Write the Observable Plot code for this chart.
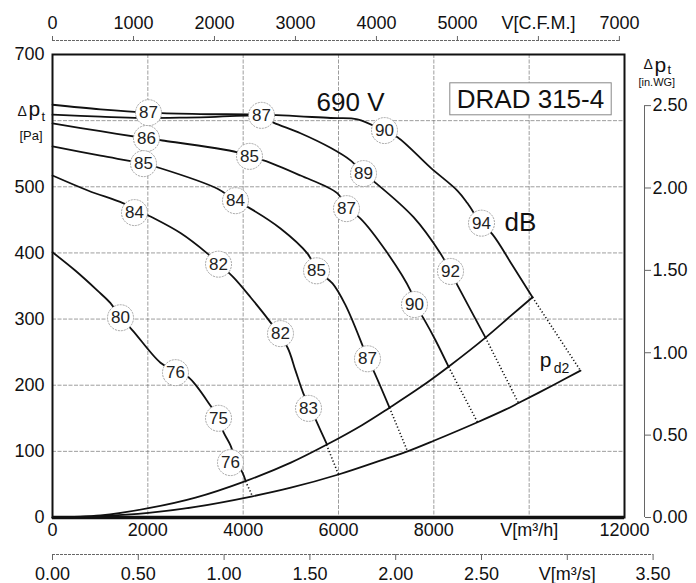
<!DOCTYPE html>
<html><head><meta charset="utf-8">
<script src="https://cdn.jsdelivr.net/npm/d3@7"></script>
<script src="https://cdn.jsdelivr.net/npm/@observablehq/plot@0.6"></script>
<style>body{margin:0;background:#fff;}</style>
</head><body><div id="chart"></div>
<script>
// ---- Fan curves (x: V [m³/h], y: Δp_t [Pa]) ----
const curve94 = [[0,624],[1007,617],[2014,612],[3105,610],[4406,609],[5832,604],[6399,602],[6944,585],[7238,575],[7930,529],[8497,494],[8707,475],[8979,446],[9231,428],[9651,381],[10070,333]];
const curve92 = [[0,609],[1007,606],[1846,604],[3105,605],[4406,606],[4636,597],[5203,581],[5832,559],[6252,540],[6525,520],[6777,506],[7574,454],[8140,399],[8350,372],[8497,351],[9084,272]];
const curve90 = [[0,596],[1007,584],[1993,573],[2308,570],[3881,552],[4154,544],[4427,540],[5203,517],[5979,490],[6189,467],[6462,452],[6986,404],[7511,343],[7616,321],[7784,301],[8035,268],[8308,228]];
const curve87 = [[0,561],[1007,547],[1909,535],[2266,528],[3462,497],[3839,479],[4154,467],[4783,437],[5350,399],[5559,373],[5874,354],[6147,321],[6504,260],[6609,240],[6734,222],[7070,166]];
const curve83 = [[0,517],[755,494],[1490,475],[2056,455],[2685,430],[3252,399],[3483,384],[3797,363],[4154,333],[4573,295],[4930,257],[5098,222],[5266,187],[5413,165],[5559,142],[5748,112]];
const curve76 = [[0,401],[483,373],[944,343],[1217,324],[1427,302],[1678,283],[2266,234],[2580,221],[2853,212],[3315,169],[3483,150],[3587,129],[3734,109],[3860,83],[3986,68],[4049,56]];
const fanCurves = [curve94, curve92, curve90, curve87, curve83, curve76];

// ---- Boundary curves ----
const upperLimit = [[0,0],[1007,3],[2014,14],[3000,30],[4049,55],[5000,83],[5748,110],[6500,140],[7070,166],[7700,196],[8308,228],[9084,272],[9600,304],[10070,333]];
const pd2Curve = [[0,0],[1007,2],[2014,7],[3000,16],[4196,32],[5000,45],[6000,65],[7000,89],[7448,100],[8000,116],[8916,144],[9500,163],[9776,173],[10500,200],[11077,222]];
const dottedFrom = [[10070,333],[9084,272],[8308,228],[7070,166],[5748,110],[4049,55]];
const dottedTo = [[11077,222],[9776,173],[8916,144],[7448,100],[6000,65],[4196,32]];

// ---- Sound level labels [x, y, dB] ----
const dbLabels = [
  [2014,612,"87"],[4385,608,"87"],[6965,585,"90"],[9000,445,"94"],
  [6525,520,"89"],[8350,372,"92"],
  [1972,573,"86"],[4133,546,"85"],[6168,467,"87"],[7594,322,"90"],
  [1909,535,"85"],[3839,479,"84"],[5539,373,"85"],[6608,240,"87"],
  [1720,461,"84"],[3483,383,"82"],[4783,278,"82"],[5371,165,"83"],
  [1427,302,"80"],[2580,219,"76"],[3483,150,"75"],[3734,83,"76"]
];

// ---- Annotations [x, y, text] ----
const bigNotes = [[6252,627,"690 V"],[9818,446,"dB"]];
const modelNote = [[10028,632,"DRAD 315-4"]];
const pd2Note = [[10343,233,"p"]];
const pd2Sub = [[10343,233,"d2"]];

// ---- Axes ----
const xTicks = [0,2000,4000,6000,8000,10000,12000];
const xTickLabels = ["0","2000","4000","6000","8000","V[m³/h]","12000"];
const yTicks = [0,100,200,300,400,500,700];
const gridXTicks = [2000,4000,6000,8000,10000];
const gridYTicks = [100,200,300,400,500,600];
const cfmTicks = [0,1000,2000,3000,4000,5000,6000,7000];
const cfmTickLabels = ["0","1000","2000","3000","4000","5000","V[C.F.M.]","7000"];
const m3sTicks = [0,0.5,1,1.5,2,2.5,3,3.5];
const m3sTickLabels = ["0.00","0.50","1.00","1.50","2.00","2.50","V[m³/s]","3.50"];
const inwgTicks = [0,0.5,1,1.5,2,2.5];
const inwgTickLabels = ["0.00","0.50","1.00","1.50","2.00","2.50"];

const M3H_PER_CFM = 1.699, M3H_PER_M3S = 3600, PA_PER_INWG = 249.09;

const xLabelMap = new Map(xTicks.map((v,i)=>[v,xTickLabels[i]]));
const cfmPos = cfmTicks.map(v=>v*M3H_PER_CFM);
const cfmMap = new Map(cfmPos.map((v,i)=>[v,cfmTickLabels[i]]));
const m3sPos = m3sTicks.map(v=>v*M3H_PER_M3S);
const m3sMap = new Map(m3sPos.map((v,i)=>[v,m3sTickLabels[i]]));
const inwgPos = inwgTicks.map(v=>v*PA_PER_INWG);
const inwgMap = new Map(inwgPos.map((v,i)=>[v,inwgTickLabels[i]]));

const FONT = "'Liberation Sans', Arial, Helvetica, sans-serif";
const links = dottedFrom.map((a,i)=>({x1:a[0],y1:a[1],x2:dottedTo[i][0],y2:dottedTo[i][1]}));

const chart = Plot.plot({
  width: 696, height: 583,
  marginLeft: 52, marginRight: 72, marginTop: 54, marginBottom: 66,
  x: {domain: [0, 12000]},
  y: {domain: [0, 700]},
  style: {fontFamily: FONT, background: "white", color: "#111"},
  marks: [
    Plot.gridX(gridXTicks, {stroke: "#777", strokeOpacity: 0.9, strokeWidth: 0.8, strokeDasharray: "4,1.5"}),
    Plot.gridY(gridYTicks, {stroke: "#777", strokeOpacity: 0.9, strokeWidth: 0.8, strokeDasharray: "4,1.5"}),
    Plot.frame({stroke: "#111", strokeWidth: 2}),
    Plot.ruleY([0], {stroke: "#111", strokeWidth: 3.5}),
    // primary axes
    Plot.axisY(yTicks, {anchor: "left", tickSize: 0, tickPadding: 8, fontSize: 18, label: null}),
    Plot.axisX(xTicks, {anchor: "bottom", tickSize: 0, tickPadding: 6, fontSize: 18, label: null, tickFormat: d => xLabelMap.get(d)}),
    // top C.F.M. axis
    Plot.ruleY([700], {x1: 0, x2: cfmPos[cfmPos.length-1], dy: -14, stroke: "#666", strokeWidth: 1, strokeDasharray: "3,1"}),
    Plot.axisX(cfmPos, {anchor: "top", tickSize: 5, dy: -14, tickPadding: 7, fontSize: 18, stroke: "#666", label: null, tickFormat: d => cfmMap.get(d)}),
    // bottom m³/s axis
    Plot.ruleY([0], {x1: 0, x2: m3sPos[m3sPos.length-1], dy: 37, stroke: "#666", strokeWidth: 1, strokeDasharray: "3,1"}),
    Plot.axisX(m3sPos, {anchor: "bottom", tickSize: 6, dy: 37, tickPadding: 7, fontSize: 18, stroke: "#666", label: null, tickFormat: d => m3sMap.get(d)}),
    // right in.WG axis
    Plot.ruleX([12000], {y1: 0, y2: inwgPos[inwgPos.length-1], dx: 20, stroke: "#666", strokeWidth: 1}),
    Plot.axisY(inwgPos, {anchor: "right", tickSize: 6, dx: 20, tickPadding: 2, fontSize: 18, stroke: "#666", label: null, tickFormat: d => inwgMap.get(d)}),
    // unit labels
    Plot.text(["Δ"], {frameAnchor: "left", y: 600, dx: -35, dy: -9, fontSize: 14, textAnchor: "start"}),
    Plot.text(["p"], {frameAnchor: "left", y: 600, dx: -24, dy: -11, fontSize: 21, textAnchor: "start"}),
    Plot.text(["t"], {frameAnchor: "left", y: 600, dx: -11, dy: -4, fontSize: 13, textAnchor: "start"}),
    Plot.text(["[Pa]"], {frameAnchor: "left", y: 600, dx: -33, dy: 15, fontSize: 13, textAnchor: "start"}),
    Plot.text(["Δ"], {frameAnchor: "top-right", dx: 19, dy: 5, fontSize: 14, textAnchor: "start"}),
    Plot.text(["p"], {frameAnchor: "top-right", dx: 30, dy: 3, fontSize: 21, textAnchor: "start"}),
    Plot.text(["t"], {frameAnchor: "top-right", dx: 43, dy: 10, fontSize: 13, textAnchor: "start"}),
    Plot.text(["[in.WG]"], {frameAnchor: "top-right", dx: 14, dy: 24, fontSize: 11, textAnchor: "start"}),
    // curves
    Plot.line(upperLimit, {x: d => d[0], y: d => d[1], curve: "catmull-rom", stroke: "#111", strokeWidth: 1.8}),
    Plot.line(pd2Curve, {x: d => d[0], y: d => d[1], curve: "catmull-rom", stroke: "#111", strokeWidth: 1.8}),
    Plot.link(links, {x1: "x1", y1: "y1", x2: "x2", y2: "y2", stroke: "#111", strokeWidth: 1.6, strokeDasharray: "1.2,2.2"}),
    ...fanCurves.map(c => Plot.line(c, {x: d => d[0], y: d => d[1], curve: "catmull-rom", stroke: "#111", strokeWidth: 1.8})),
    // dB labels
    Plot.dot(dbLabels, {x: d => d[0], y: d => d[1], r: 13, fill: "white", stroke: "#999", strokeWidth: 0.9, strokeDasharray: "2,1"}),
    Plot.text(dbLabels, {x: d => d[0], y: d => d[1], text: d => d[2], fontSize: 17, fill: "#222"}),
    // annotations
    Plot.text(bigNotes, {x: d => d[0], y: d => d[1], text: d => d[2], fontSize: 26, fill: "#111"}),
    Plot.text(modelNote, {x: d => d[0], y: d => d[1], text: d => d[2], fontSize: 26, fill: "#111"}),
    Plot.text(pd2Note, {x: d => d[0], y: d => d[1], text: d => d[2], fontSize: 21, fill: "#111", dy: -3}),
    Plot.text(pd2Sub, {x: d => d[0], y: d => d[1], text: d => d[2], fontSize: 14, fill: "#111", dx: 16, dy: 5})
  ]
});
document.getElementById("chart").append(chart);

// box around model name, sized from its own text extent
d3.select(chart).selectAll("text").filter(function(){ return this.textContent === "DRAD 315-4"; }).each(function(){
  const b = this.getBBox();
  const g = this.parentNode;
  const r = d3.select(g).insert("rect", ":first-child")
    .attr("x", b.x - 7).attr("y", b.y - 1).attr("width", b.width + 14).attr("height", b.height + 2)
    .attr("fill", "white").attr("stroke", "#888").attr("stroke-width", 1);
  const t = this.getAttribute("transform");
  if (t) r.attr("transform", t);
});
</script></body></html>
